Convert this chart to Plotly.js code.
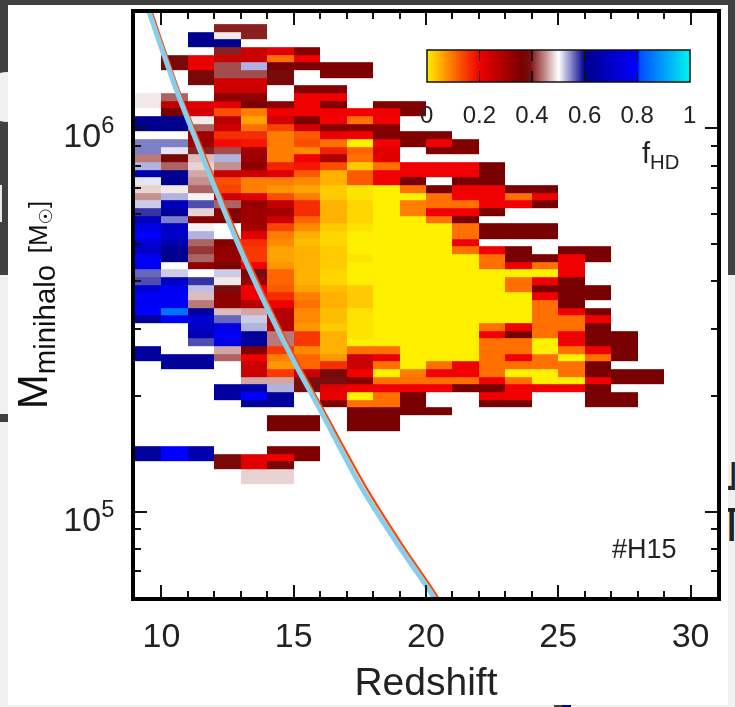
<!DOCTYPE html>
<html>
<head>
<meta charset="utf-8">
<script src="https://cdn.plot.ly/plotly-3.0.1.min.js"></script>
<style>
html,body{margin:0;padding:0;width:735px;height:707px;overflow:hidden;background:#f0f0f0;font-family:"Liberation Sans",Arial,sans-serif}
.bg{position:absolute}
.frag{position:absolute;color:#222;white-space:nowrap}
#chart{position:absolute;left:0;top:0;width:735px;height:707px;filter:blur(0.4px)}
.cbtick{position:absolute;width:1.5px;height:11px;background:#111}
</style>
</head>
<body>
<div class="bg" style="left:0;top:0;width:735px;height:5px;background:#404040"></div>
<div class="bg" style="left:0;top:0;width:8px;height:275px;background:#404040"></div>
<div class="bg" style="left:728px;top:0;width:7px;height:275px;background:#404040"></div>
<div class="bg" style="left:0;top:414px;width:8px;height:8px;background:#404040"></div>
<div class="bg" style="left:-18px;top:72px;width:50px;height:50px;border-radius:25px;background:#f0f0f0"></div>
<div class="bg" style="left:0;top:185px;width:2px;height:37px;background:#e8e8e8"></div>
<div class="bg" style="left:554px;top:705px;width:8px;height:2px;background:#404040"></div>
<div class="bg" style="left:562px;top:705px;width:9px;height:2px;background:#0000a0"></div>
<div class="frag" style="left:717px;top:501px;font-size:48px;line-height:48px">T</div>
<div class="frag" style="left:724.5px;top:458px;font-size:38px;line-height:38px;letter-spacing:-6px">.l</div>
<div class="bg" style="left:8px;top:5px;width:720px;height:700px;background:#fff"></div>
<div id="chart"></div>
<script>
const _ = null;
const redshiftEdges = [9,10,11,12,13,14,15,16,17,18,19,20,21,22,23,24,25,26,27,28,29];
const logMassEdgesTopDown = [6.272,6.252,6.232,6.212,6.192,6.172,6.152,6.132,6.112,6.092,6.072,6.052,6.032,6.012,5.992,5.972,5.952,5.932,5.912,5.892,5.872,5.852,5.832,5.812,5.792,5.772,5.752,5.732,5.712,5.692,5.672,5.652,5.632,5.612,5.592,5.572,5.552,5.532,5.512,5.492,5.472,5.452,5.432,5.412,5.392,5.372,5.352,5.332,5.312,5.292,5.272,5.252,5.232,5.212,5.192,5.172,5.152,5.132,5.112,5.092,5.072];
const fHDRows = [
[_,_,_,.4,.4],
[_,_,.6,.49,.4],
[_,_,.6,.6],
[_,_,_,.4,.25,.22,.34],
[_,.38,.21,.25,.25,.1,.2],
[_,.38,.21,.42,.53,.36,.36,.35,.35],
[_,_,.38,.42,.42,.38,_,.35,.35],
[_,_,.38,.24,.24,.38],
[_,_,_,.25,.25,_,.34,.34],
[.49,.43,_,.33,.33,_,.2,.2],
[.49,.26,.22,.22,.36,.33,.2,.35,_,.35,.35],
[_,.36,.24,.13,.09,.2,.2,.2,.2,.2,.35],
[.6,.6,.49,.27,.06,.24,.35,.2,.1,.2],
[.6,.6,.43,.25,.1,.14,.24,.34,.34,.34],
[.5,.5,.31,.16,.16,.09,.12,.21,.2,.35,.35,.35],
[.55,.55,.31,.19,.18,.09,.13,.1,0,.2,.35,.2,.35],
[.55,.51,.4,.42,.3,.09,.08,.17,.11,.22,_,.35,.35],
[.44,.37,.47,.53,.31,.09,.2,.29,.1,.22],
[.53,.43,.48,.45,.33,.17,.18,.13,.03,.1,.2,.2,.2,.36],
[.65,.6,.46,.25,.25,.22,.12,.05,.12,.2,.2,.2,.2,.36],
[.51,.6,.45,.13,.09,.09,.08,.05,.12,.2,.36,_,.36,.36],
[.48,.49,.43,.14,.09,.07,.06,.03,.01,0,.1,.36,.2,.2,.36,.36],
[.45,.53,.495,.25,.22,.13,.09,.03,.01,0,0,.1,.2,.2,.1,.2],
[.52,.68,.57,.43,.32,.26,.16,.05,.02,0,.09,.1,.1,.2,.2,.36],
[.58,.62,.48,.34,.31,.3,.16,.05,.02,0,.09,.2,.2,.36],
[.68,.55,.34,.34,.31,.25,.11,.05,.02,0,0,.1,.36],
[.75,.7,.505,.5,.3,.14,.08,.03,.01,0,0,0,.1,.36,.36,.36],
[.8,.7,.53,.5,.22,.09,.05,.02,0,0,0,0,.1,.36,.36,.36],
[.73,.66,.43,.34,.16,.08,.04,.02,0,0,0,0,.2],
[.7,.6,.41,.33,.15,.06,.05,.03,0,0,0,0,.1,.2,.36,_,.36,.36],
[.78,.6,.43,.32,.15,.06,.05,.03,.01,0,0,0,0,.1,.36,.36,.2,.36],
[.78,.5,.33,.37,.2,.07,.05,.03,0,0,0,0,0,.1,.2,.1,.2],
[.56,.52,.5,.52,.38,.11,.05,.02,0,0,0,0,0,0,0,0,.2],
[.57,.7,.58,.49,.32,.11,.05,.02,0,0,0,0,0,0,.1,.2,.36],
[.72,.78,.525,.39,.2,.12,.06,.04,.03,0,0,0,0,0,.1,.36,.36,.36],
[.78,.78,.47,.33,.2,.16,.09,.05,.03,0,0,0,0,0,0,.2,.36,.36],
[.78,.78,.44,.33,.28,.2,.1,.05,.03,0,0,0,0,0,0,.1,.36],
[.8,.85,.62,.47,.46,.28,.08,.04,.01,0,0,0,0,0,0,.1,.2,.36],
[.62,.78,.72,.56,.52,.28,.08,.04,.01,0,0,0,0,0,0,.1,.1,.2],
[_,_,.7,.75,.53,.28,.07,.03,.01,0,0,0,0,.1,.2,.1,.1,.36],
[_,_,.66,.8,.62,.44,.15,.05,.01,0,0,0,0,.2,.36,.1,.2,.36,.36],
[_,_,.57,.75,.62,.44,.15,.05,0,0,0,0,0,.1,.1,0,.2,.36,.36],
[.62,_,_,.46,.35,.15,.08,.05,.1,.1,0,0,0,.1,.1,0,.1,.2,.36],
[.62,.62,.62,.43,.2,.09,.11,.07,.25,.21,0,0,0,.1,.2,.1,0,.1,.36],
[_,.62,.62,_,.25,.07,.11,.16,.25,.1,0,.1,.2,.1,.1,.1,.1,.36],
[_,_,_,_,.25,.15,.25,.38,.2,0,.09,.2,.2,.1,0,0,.1,.36,.36,.36],
[_,_,_,_,.46,.46,.39,.39,.34,.1,.1,.1,.1,.2,.1,0,0,.2,.36,.36],
[_,_,_,.63,.65,.53,.39,.22,.2,.2,.2,.2,.36,.36,.2,.2,.2,.36],
[_,_,_,.63,.8,.62,_,.21,0,.1,.36,_,_,.2,.2,_,_,.36,.36],
[_,_,_,_,.62,.62,_,.35,.1,.1,.36,_,_,.36,.36,_,_,.36,.36],
[_,_,_,_,_,_,_,_,.36,.36,.36,.36],
[_,_,_,_,_,.36,.36,_,.36,.36],
[_,_,_,_,_,.36,.36,_,.36,.36],
[],
[],
[.62,.8,.66,_,_,.35,.35],
[.62,.8,.66,.38,.22,.2,.35],
[_,_,_,.38,.22,.37],
[_,_,_,_,.48,.48],
[_,_,_,_,.48,.48]
];
const blueCurveZ    = [9.45,9.6,10.566,11.13,12.83,13.85,14.98,16.0,17.62,18.92,20.27,20.37];
const blueCurveLogM = [6.32,6.29,6.10,6.00,5.709,5.553,5.396,5.266,5.057,4.917,4.78,4.765];
const orangeCurveZ    = [9.55,9.7,10.656,11.23,12.95,13.98,15.1,16.13,17.8,19.08,20.42,20.52];
const orangeCurveLogM = [6.32,6.29,6.10,6.00,5.709,5.553,5.396,5.266,5.057,4.917,4.78,4.765];
const xTicks = [10,15,20,25,30];
const yTicks = [1e5,1e6];
const cbTicks = [0,0.2,0.4,0.6,0.8,1];
const cbTickMarks = [0.2,0.4,0.6,0.8];

const colorscale = [[0,'#fff000'],[0.1,'#ff7000'],[0.2,'#f00000'],[0.36,'#780000'],[0.395,'#7a1010'],[0.4,'#8b2020'],[0.5,'#ffffff'],[0.6,'#000090'],[0.8,'#0000ff'],[0.81,'#0050ff'],[1,'#00f4f0']];

const rowsBottomUp = fHDRows.slice().reverse().map(r=>{const a=r.slice();while(a.length<20)a.push(null);return a;});
const yEdges = logMassEdgesTopDown.slice().reverse().map(v=>Math.pow(10,v));
const pow = a=>a.map(v=>Math.pow(10,v));
const fontFam = 'Liberation Sans, DejaVu Sans, sans-serif';

const traces = [
 {type:'heatmap',x:redshiftEdges,y:yEdges,z:rowsBottomUp,zmin:0,zmax:1,colorscale:colorscale,hoverongaps:false,
  colorbar:{orientation:'h',xref:'paper',yref:'paper',x:0.7273,xanchor:'center',y:0.9366,yanchor:'top',xpad:0,ypad:0,
   lenmode:'pixels',len:263,thicknessmode:'pixels',thickness:32,outlinecolor:'#111',outlinewidth:1.5,borderwidth:0,
   tickmode:'array',tickvals:cbTicks,ticktext:['0','0.2','0.4','0.6','0.8','1'],ticks:'outside',ticklen:12,tickcolor:'rgba(0,0,0,0)',
   tickfont:{family:fontFam,size:24,color:'#222'}}},
 {type:'scatter',mode:'lines',x:orangeCurveZ,y:pow(orangeCurveLogM),line:{color:'#ff4500',width:2.2,shape:'spline',smoothing:1},showlegend:false,hoverinfo:'skip'},
 {type:'scatter',mode:'lines',x:blueCurveZ,y:pow(blueCurveLogM),line:{color:'#87ceeb',width:5,shape:'spline',smoothing:1},showlegend:false,hoverinfo:'skip'}
];

const layout = {
 width:735,height:707,paper_bgcolor:'rgba(0,0,0,0)',plot_bgcolor:'rgba(0,0,0,0)',showlegend:false,
 margin:{l:134.5,r:17.5,t:13,b:110,pad:0},
 font:{family:fontFam,color:'#222'},
 xaxis:{type:'linear',range:[9,31],tickmode:'array',tickvals:xTicks,ticks:'inside',ticklen:12,tickwidth:1.5,tickcolor:'#111',
  minor:{dtick:1,ticks:'inside',ticklen:6,tickwidth:1.5,tickcolor:'#111'},
  showgrid:false,zeroline:false,showline:true,linecolor:'#000',linewidth:3.5,mirror:'allticks',ticklabelstandoff:5,
  tickfont:{size:34,family:fontFam,color:'#222'},
  title:{text:'Redshift',font:{size:39,family:fontFam,color:'#222'},standoff:16}},
 yaxis:{type:'log',range:[Math.log10(6e4),Math.log10(2e6)],tickmode:'array',tickvals:yTicks,ticktext:['10<sup>5</sup>','10<sup>6</sup>'],ticks:'inside',ticklen:12,tickwidth:1.5,tickcolor:'#111',
  minor:{dtick:'D1',ticks:'inside',ticklen:6,tickwidth:1.5,tickcolor:'#111'},
  showgrid:false,zeroline:false,showline:true,linecolor:'#000',linewidth:3.5,mirror:'allticks',ticklabelstandoff:10,ticklabelshift:7,
  tickfont:{size:34,family:fontFam,color:'#222'},
  title:{text:'M<sub>minihalo</sub> <span style="font-size:26px">[M<sub>☉</sub>]</span>',font:{size:42,family:fontFam,color:'#111'},standoff:4}},
 annotations:[
  {xref:'paper',yref:'paper',xanchor:'center',yanchor:'middle',x:(661-134.5)/583,y:(597-155)/584,text:'f<sub>HD</sub>',showarrow:false,font:{size:29,family:fontFam,color:'#222'}},
  {xref:'paper',yref:'paper',xanchor:'center',yanchor:'middle',x:(645-134.5)/583,y:(597-549)/584,text:'#H15',showarrow:false,font:{size:27,family:fontFam,color:'#222'}}
 ]
};
Plotly.newPlot('chart',traces,layout,{displayModeBar:false,responsive:false}).then(()=>{
  cbTickMarks.forEach(v=>{
    [50,71].forEach(top=>{
      const d=document.createElement('div');
      d.className='cbtick';
      d.style.left=(427+v*263-0.75)+'px';
      d.style.top=top+'px';
      document.body.appendChild(d);
    });
  });
});
</script>
</body>
</html>
